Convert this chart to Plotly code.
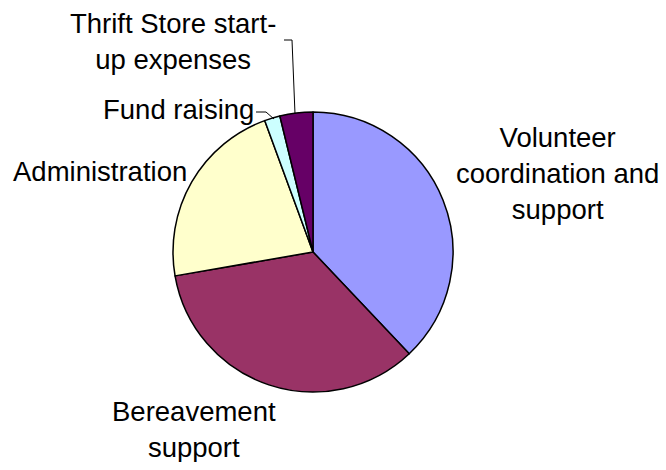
import plotly.graph_objects as go

# The page body adds an 8px margin; size the figure to fit inside the window
OFF = 8
W, H = 666 - 2 * OFF, 470 - 2 * OFF

categories = ["Volunteer coordination and support", "Bereavement support",
              "Administration", "Fund raising", "Thrift Store start-up expenses"]
values = [37.9, 34.3, 22.1, 1.8, 3.8]
colors = ["#9999FF", "#993366", "#FFFFCC", "#CCFFFF", "#660066"]

label_texts = ["Volunteer<br>coordination and<br>support", "Bereavement<br>support",
               "Administration", "Fund raising", "Thrift Store start-<br>up expenses"]
label_pos = [(557, 173), (194, 429), (100, 172), (178, 110), (173, 41)]

cx, cy, r = 313, 252, 140

def px(x):
    return (x - OFF) / W

def py(y):
    return 1 - (y - OFF) / H

fig = go.Figure(go.Pie(
    labels=categories, values=values, sort=False, direction="clockwise", rotation=0,
    marker=dict(colors=colors, line=dict(color="black", width=1.5)),
    textinfo="none", hoverinfo="label+percent", showlegend=False,
    domain=dict(x=[px(cx - r), px(cx + r)], y=[py(cy + r), py(cy - r)]),
))

annotations = []
for t, (x, y) in zip(label_texts, label_pos):
    annotations.append(dict(text=t, x=px(x), y=py(y), xref="paper", yref="paper",
                            showarrow=False, xanchor="center", yanchor="middle", align="center",
                            borderpad=0,
                            font=dict(family="Liberation Sans, Arial, sans-serif", size=27.5, color="black")))

leaders = [
    [(284, 40), (292, 40), (295, 114)],
    [(256, 112), (266, 112), (274, 119)],
]
shapes = []
for pts in leaders:
    path = "M " + " L ".join(f"{px(x)},{py(y)}" for x, y in pts)
    shapes.append(dict(type="path", path=path, xref="paper", yref="paper",
                       line=dict(color="black", width=1)))

fig.update_layout(
    width=W, height=H, margin=dict(l=0, r=0, t=0, b=0),
    paper_bgcolor="white", plot_bgcolor="white",
    annotations=annotations, shapes=shapes,
)

fig.write_html("out.html")
